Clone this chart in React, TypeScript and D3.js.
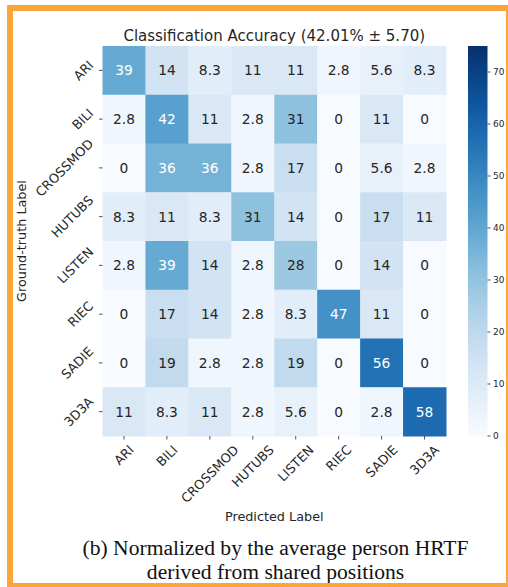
import React, { useEffect, useRef } from 'react';
import * as d3 from 'd3';

// Dataset labels shared by both axes
const classLabels = ['ARI', 'BILI', 'CROSSMOD', 'HUTUBS', 'LISTEN', 'RIEC', 'SADIE', '3D3A'];

// Row-normalised confusion values (%), one array per ground-truth class
const rowARI = [39, 14, 8.3, 11, 11, 2.8, 5.6, 8.3];
const rowBILI = [2.8, 42, 11, 2.8, 31, 0, 11, 0];
const rowCROSSMOD = [0, 36, 36, 2.8, 17, 0, 5.6, 2.8];
const rowHUTUBS = [8.3, 11, 8.3, 31, 14, 0, 17, 11];
const rowLISTEN = [2.8, 39, 14, 2.8, 28, 0, 14, 0];
const rowRIEC = [0, 17, 14, 2.8, 8.3, 47, 11, 0];
const rowSADIE = [0, 19, 2.8, 2.8, 19, 0, 56, 0];
const row3D3A = [11, 8.3, 11, 2.8, 5.6, 0, 2.8, 58];

const colorTicks = [0, 10, 20, 30, 40, 50, 60, 70];
const colorMax = 75;

const titleText = 'Classification Accuracy (42.01% \u00b1 5.70)';
const xAxisTitle = 'Predicted Label';
const yAxisTitle = 'Ground-truth Label';
const captionLines = ['(b) Normalized by the average person HRTF', 'derived from shared positions'];

const W = 508;
const H = 587;
const FONT = '"DejaVu Sans", sans-serif';
const INK = '#262626';
const FRAME = '#FBA53B';

function luminance(c: string): number {
  const rgb = d3.rgb(c);
  const lin = (v: number) => {
    const s = v / 255;
    return s <= 0.03928 ? s / 12.92 : Math.pow((s + 0.055) / 1.055, 2.4);
  };
  return 0.2126 * lin(rgb.r) + 0.7152 * lin(rgb.g) + 0.0722 * lin(rgb.b);
}

export default function App() {
  const ref = useRef<SVGSVGElement>(null);

  useEffect(() => {
    const svg = d3.select(ref.current);
    svg.selectAll('*').remove();

    const matrix = [rowARI, rowBILI, rowCROSSMOD, rowHUTUBS, rowLISTEN, rowRIEC, rowSADIE, row3D3A];

    const left = 102.5, right = 446, top = 46, bottom = 436;
    const x = d3.scaleBand<string>().domain(classLabels).range([left, right]);
    const y = d3.scaleBand<string>().domain(classLabels).range([top, bottom]);
    const color = d3.scaleSequential(d3.interpolateBlues).domain([0, colorMax]);

    svg.append('rect').attr('width', W).attr('height', H).attr('fill', '#fff');

    // Cells and annotations
    const cells = svg.append('g');
    matrix.forEach((row, ri) => {
      row.forEach((v, ci) => {
        const fill = color(v);
        const cx = x(classLabels[ci])!;
        const cy = y(classLabels[ri])!;
        cells.append('rect')
          .attr('x', cx).attr('y', cy)
          .attr('width', x.bandwidth() + 0.5).attr('height', y.bandwidth() + 0.5)
          .attr('fill', fill);
        cells.append('text')
          .attr('x', cx + x.bandwidth() / 2)
          .attr('y', cy + y.bandwidth() / 2)
          .attr('text-anchor', 'middle')
          .attr('dominant-baseline', 'central')
          .attr('font-family', FONT)
          .attr('font-size', 13.8)
          .attr('fill', luminance(fill) < 0.408 ? '#ffffff' : INK)
          .text(String(v));
      });
    });

    const tickLen = 3.5, pad = 3.5, tickFont = 12.8;
    const k = Math.SQRT1_2;

    // Y axis ticks and rotated labels
    const yAxis = svg.append('g');
    classLabels.forEach((l) => {
      const ty = y(l)! + y.bandwidth() / 2;
      yAxis.append('line')
        .attr('x1', left - tickLen).attr('x2', left)
        .attr('y1', ty).attr('y2', ty)
        .attr('stroke', INK).attr('stroke-width', 0.8);
      const t = yAxis.append('text')
        .attr('font-family', FONT).attr('font-size', tickFont)
        .attr('fill', INK)
        .attr('text-anchor', 'middle').attr('dominant-baseline', 'central')
        .text(l);
      const w = (t.node() as SVGTextElement).getComputedTextLength();
      const half = ((w + tickFont) * k) / 2;
      t.attr('transform', `translate(${left - tickLen - pad - half},${ty}) rotate(-45)`);
    });

    // X axis ticks and rotated labels
    const xAxis = svg.append('g');
    classLabels.forEach((l) => {
      const tx = x(l)! + x.bandwidth() / 2;
      xAxis.append('line')
        .attr('x1', tx).attr('x2', tx)
        .attr('y1', bottom).attr('y2', bottom + tickLen)
        .attr('stroke', INK).attr('stroke-width', 0.8);
      const t = xAxis.append('text')
        .attr('font-family', FONT).attr('font-size', tickFont)
        .attr('fill', INK)
        .attr('text-anchor', 'middle').attr('dominant-baseline', 'central')
        .text(l);
      const w = (t.node() as SVGTextElement).getComputedTextLength();
      const half = ((w + tickFont) * k) / 2;
      t.attr('transform', `translate(${tx},${bottom + tickLen + pad + half}) rotate(-45)`);
    });

    // Titles
    svg.append('text')
      .attr('x', (left + right) / 2).attr('y', 35.5)
      .attr('text-anchor', 'middle').attr('dominant-baseline', 'central')
      .attr('font-family', FONT).attr('font-size', 15).attr('fill', INK)
      .text(titleText);
    svg.append('text')
      .attr('x', (left + right) / 2).attr('y', 516)
      .attr('text-anchor', 'middle').attr('dominant-baseline', 'central')
      .attr('font-family', FONT).attr('font-size', 12.8).attr('fill', INK)
      .text(xAxisTitle);
    svg.append('text')
      .attr('transform', `translate(21,${(top + bottom) / 2}) rotate(-90)`)
      .attr('text-anchor', 'middle').attr('dominant-baseline', 'central')
      .attr('font-family', FONT).attr('font-size', 12.8).attr('fill', INK)
      .text(yAxisTitle);

    // Colorbar
    const cbX = 468, cbW = 19.5;
    const cbScale = d3.scaleLinear().domain([0, colorMax]).range([bottom, top]);
    const grad = svg.append('defs').append('linearGradient')
      .attr('id', 'cbGrad').attr('x1', 0).attr('x2', 0).attr('y1', 1).attr('y2', 0);
    d3.range(0, 1.0001, 0.05).forEach((s) => {
      grad.append('stop').attr('offset', s).attr('stop-color', color(s * colorMax));
    });
    svg.append('rect')
      .attr('x', cbX).attr('y', top).attr('width', cbW).attr('height', bottom - top)
      .attr('fill', 'url(#cbGrad)');
    const cb = svg.append('g');
    colorTicks.forEach((v) => {
      const ty = cbScale(v);
      cb.append('line')
        .attr('x1', cbX + cbW).attr('x2', cbX + cbW + 3)
        .attr('y1', ty).attr('y2', ty)
        .attr('stroke', INK).attr('stroke-width', 0.8);
      cb.append('text')
        .attr('x', cbX + cbW + 5.5).attr('y', ty)
        .attr('dominant-baseline', 'central')
        .attr('font-family', FONT).attr('font-size', 9).attr('fill', INK)
        .text(String(v));
    });

    // Caption
    captionLines.forEach((line, i) => {
      svg.append('text')
        .attr('x', 275.5).attr('y', 555 + i * 24)
        .attr('text-anchor', 'middle')
        .attr('font-family', '"Liberation Serif", "Times New Roman", serif')
        .attr('font-size', 21.6).attr('fill', '#111')
        .text(line);
    });

    // Frame (left, top, bottom, right edges)
    const frame = svg.append('g').attr('fill', FRAME);
    frame.append('rect').attr('x', 7).attr('y', 5).attr('width', 6).attr('height', H - 5);
    frame.append('rect').attr('x', 7).attr('y', 5).attr('width', W - 7).attr('height', 6);
    frame.append('rect').attr('x', 7).attr('y', 583).attr('width', W - 7).attr('height', 4);
    frame.append('rect').attr('x', 506).attr('y', 5).attr('width', 2).attr('height', H - 5);
  }, []);

  return (
    <svg
      ref={ref}
      width={W}
      height={H}
      style={{ position: 'absolute', left: 0, top: 0, display: 'block' }}
    />
  );
}
